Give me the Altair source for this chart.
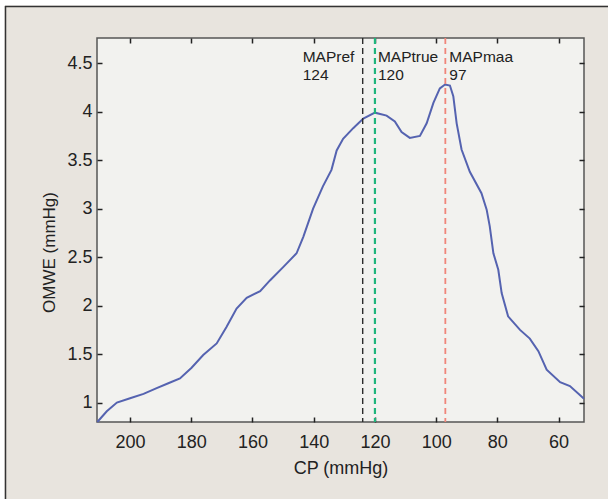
import altair as alt
import pandas as pd

# ---- data ----
cp = [210.7, 207.6, 204.3, 200.0, 195.6, 191.3, 187.5, 183.7, 179.9, 176.1,
      171.7, 168.5, 165.2, 161.9, 157.5, 154.3, 149.9, 145.6, 143.4, 140.2,
      137.0, 134.2, 132.5, 130.4, 127.1, 123.8, 120.0, 116.2, 113.5, 111.3,
      108.6, 105.3, 103.1, 100.9, 98.8, 97.1, 95.5, 94.4, 93.3, 91.7,
      89.0, 85.2, 83.5, 82.5, 81.3, 79.7, 78.6, 76.5, 72.6, 69.4,
      66.6, 63.9, 59.5, 56.3, 51.7]
omwe = [0.80, 0.91, 1.00, 1.045, 1.09, 1.15, 1.20, 1.25, 1.36, 1.49,
        1.61, 1.78, 1.97, 2.08, 2.15, 2.26, 2.40, 2.54, 2.71, 3.00,
        3.23, 3.40, 3.60, 3.72, 3.83, 3.93, 3.99, 3.96, 3.90, 3.79,
        3.73, 3.75, 3.88, 4.09, 4.24, 4.28, 4.27, 4.16, 3.88, 3.61,
        3.38, 3.16, 2.99, 2.82, 2.54, 2.37, 2.13, 1.89, 1.75, 1.66,
        1.53, 1.34, 1.21, 1.17, 1.04]
x_ticks = [200, 180, 160, 140, 120, 100, 80, 60]
y_ticks = [1, 1.5, 2, 2.5, 3, 3.5, 4, 4.5]
map_names = ["MAPref", "MAPtrue", "MAPmaa"]
map_values = [124, 120, 97]

# ---- styles ----
map_colors = ["#2b2b2b", "#1fb57c", "#f0867a"]
map_widths = [1.4, 2.2, 1.8]
map_dx = [-60, 3, 4]
W, H = 487, 384
FONT = "Liberation Sans"
TXT = "#222222"

curve = pd.DataFrame({"cp": cp, "omwe": omwe, "i": list(range(len(cp)))})

xscale = alt.Scale(domain=[51.7, 210.8], reverse=True, nice=False, zero=False)
yscale = alt.Scale(domain=[0.8, 4.76], nice=False, zero=False)


def tick_axis(orient, values):
    return alt.Axis(orient=orient, values=values, labels=False, domain=False,
                    grid=False, title="", ticks=True, tickSize=5, tickWidth=1.5,
                    tickColor="#222222", offset=-5)


base = alt.Chart(curve)

main = base.mark_line(color="#5563b0", strokeWidth=2).encode(
    x=alt.X("cp:Q", scale=xscale, axis=alt.Axis(
        orient="bottom", values=x_ticks, format="d", tickSize=0, labelPadding=11,
        labelFontSize=18, labelFont=FONT, labelColor=TXT, domain=False, grid=False,
        title="CP (mmHg)", titleFont=FONT, titleFontSize=18, titleFontWeight="normal",
        titleColor=TXT, titleX=W / 2, titleY=51, titleAlign="center",
        titleBaseline="alphabetic")),
    y=alt.Y("omwe:Q", scale=yscale, axis=alt.Axis(
        orient="left", values=y_ticks, format="~g", tickSize=0, labelPadding=5,
        labelFontSize=18, labelFont=FONT, labelColor=TXT, domain=False, grid=False,
        title="OMWE (mmHg)", titleFont=FONT, titleFontSize=17, titleFontWeight="normal",
        titleColor=TXT, titleAngle=270, titleX=-43, titleY=214, titleAlign="center",
        titleBaseline="alphabetic")),
    order="i:Q",
)

ticks_bl = base.mark_line(strokeOpacity=0).encode(
    x=alt.X("cp:Q", scale=xscale, axis=tick_axis("bottom", x_ticks)),
    y=alt.Y("omwe:Q", scale=yscale, axis=tick_axis("left", y_ticks)),
    order="i:Q",
)
ticks_tr = base.mark_line(strokeOpacity=0).encode(
    x=alt.X("cp:Q", scale=xscale, axis=tick_axis("top", x_ticks)),
    y=alt.Y("omwe:Q", scale=yscale, axis=tick_axis("right", y_ticks)),
    order="i:Q",
)

layers = []
one = alt.Data(values=[{"k": 1}])
# outer frame (decoration)
layers.append(alt.Chart(one).mark_rule(color="white", strokeWidth=5).encode(
    x=alt.value(-95), y=alt.value(-40), y2=alt.value(470)))
layers.append(alt.Chart(one).mark_rule(color="white", strokeWidth=6).encode(
    y=alt.value(-35.5), x=alt.value(-100), x2=alt.value(520)))
layers.append(alt.Chart(one).mark_rule(color="#333333", strokeWidth=1.5).encode(
    x=alt.value(-91.5), y=alt.value(-32), y2=alt.value(470)))
layers.append(alt.Chart(one).mark_rule(color="#333333", strokeWidth=1.5).encode(
    y=alt.value(-31.5), x=alt.value(-92), x2=alt.value(520)))

for name, val, col, sw, dx in zip(map_names, map_values, map_colors, map_widths, map_dx):
    d = alt.Data(values=[{"name": name, "value": val, "label": str(val)}])
    layers.append(alt.Chart(d).mark_rule(color=col, strokeWidth=sw, strokeDash=[6, 4]).encode(
        x=alt.X("value:Q", scale=xscale, axis=None)))
    layers.append(alt.Chart(d).mark_text(align="left", baseline="alphabetic", dx=dx,
                                         font=FONT, fontSize=15.5, color=TXT).encode(
        x=alt.X("value:Q", scale=xscale, axis=None), y=alt.value(23.7), text="name:N"))
    layers.append(alt.Chart(d).mark_text(align="left", baseline="alphabetic", dx=dx,
                                         font=FONT, fontSize=15.5, color=TXT).encode(
        x=alt.X("value:Q", scale=xscale, axis=None), y=alt.value(42), text="label:N"))

chart = alt.layer(main, ticks_bl, ticks_tr, *layers).resolve_axis(
    x="independent", y="independent"
).properties(
    width=W, height=H, autosize="none",
    padding={"left": 97, "top": 38, "right": 24, "bottom": 77},
    background="#e8e4de",
).configure_view(fill="#f2f2ef", stroke="#555555", strokeWidth=1.5)

chart.save("out.html", embed_options={"renderer": "svg", "actions": False})
